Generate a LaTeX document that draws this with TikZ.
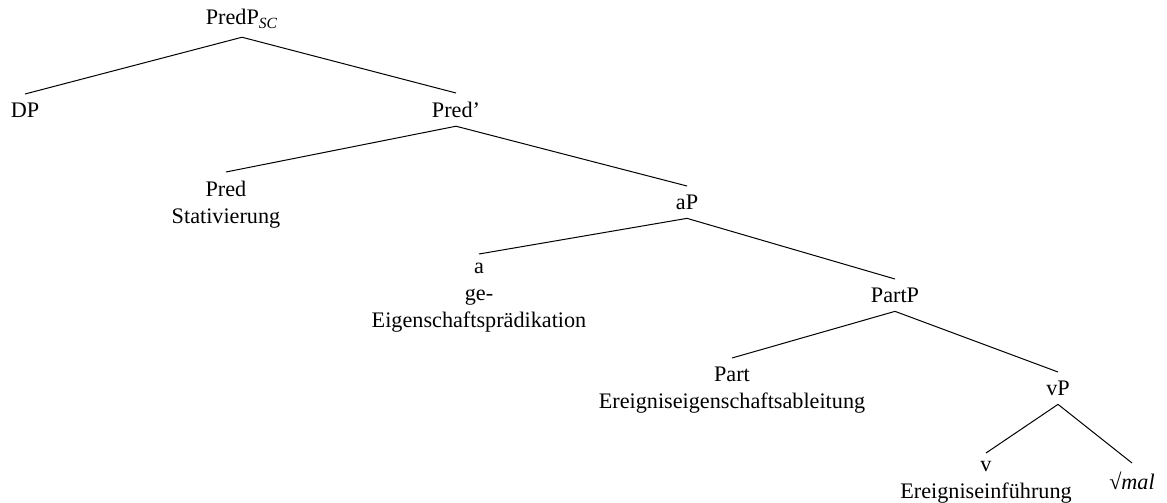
\documentclass[tikz,border=0pt]{standalone}
\usepackage{fontspec}
\setmainfont{Liberation Serif}
\usepackage{tikz}
\tikzset{
	cat/.style={font=\fontsize{11.1pt}{13.5pt}\selectfont, inner xsep=2pt, inner ysep=4.2pt, anchor=north},
	leaf/.style={cat, align=center},
	branch/.style={line width=0.5pt}
}

\begin{document}
\begin{tikzpicture}[x=0.5pt,y=-0.5pt]
	\useasboundingbox (0,0) rectangle (1167,503);

	% Phrase nodes
	\node[cat, anchor=base] (predp) at (242,25) {PredP\textsubscript{\textit{SC}}};
	\node[cat] (dp) at (25,94) {DP};
	\node[cat] (predbar) at (456,93) {Pred'};
	\node[cat] (ap) at (687,186) {aP};
	\node[cat] (partp) at (895,279) {PartP};
	\node[cat] (vp) at (1058,372) {vP};

	% Heads with their glosses
	\node[leaf] (pred) at (226,172) {Pred\\Stativierung};
	\node[leaf] (a) at (479,254) {a\\ge-\\Eigenschaftsprädikation};
	\node[leaf] (part) at (732,358) {Part\\Ereigniseigenschaftsableitung};
	\node[leaf] (v) at (986,453) {v\\Ereigniseinführung};
	\node[cat] (root) at (1132,463) {√\textit{mal}};

	% Branches
	\foreach \p/\c in {predp/dp, predp/predbar, predbar/pred, predbar/ap, ap/a, ap/partp, partp/part, partp/vp, vp/v, vp/root}
		\draw[branch] (\p.south) -- (\c.north);
\end{tikzpicture}
\end{document}
